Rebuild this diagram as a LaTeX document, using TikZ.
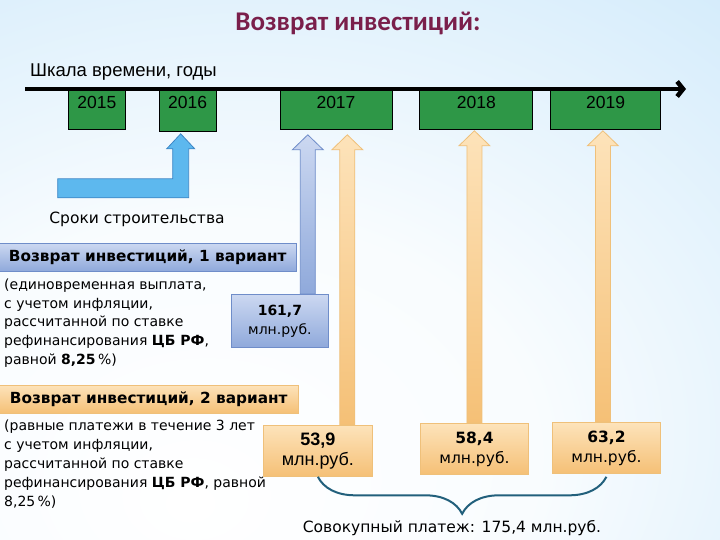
\documentclass[tikz,border=0pt]{standalone}
\usepackage{fontspec}
\setmainfont{DejaVu Sans}
\newfontfamily\arialfont{Liberation Sans}
\newfontfamily\titlefont{Carlito}
\usetikzlibrary{positioning, calc, arrows.meta, decorations.pathreplacing}

\definecolor{titlered}{HTML}{7A1F4B}
\definecolor{yeargreen}{HTML}{2E9747}
\definecolor{bgblue}{HTML}{BFE2F9}
\definecolor{buildblue}{HTML}{5DB8EE}
\definecolor{buildline}{HTML}{3D86C6}
\definecolor{vonetop}{HTML}{CCD8F1}
\definecolor{vonebot}{HTML}{8FA9DB}
\definecolor{voneline}{HTML}{6F8DC9}
\definecolor{vtwotop}{HTML}{FDE3BA}
\definecolor{vtwobot}{HTML}{F5C076}
\definecolor{vtwoline}{HTML}{EFC07A}
\definecolor{bracecol}{HTML}{22607C}

\pgfdeclareradialshading{bgshade}{\pgfpoint{-12bp}{-22bp}}{color(0bp)=(white); color(22bp)=(white!90!bgblue); color(55bp)=(bgblue!80); color(100bp)=(bgblue)}

\newcommand{\payarrow}[3]{%
  \path[#1] let \p1=(#2), \p2=(#3) in
    (\x1-7.5pt,\y1) -- (\x1-7.5pt,\y2-15pt) -- (\x1-15.5pt,\y2-15pt) -- (\x1,\y2)
    -- (\x1+15.5pt,\y2-15pt) -- (\x1+7.5pt,\y2-15pt) -- (\x1+7.5pt,\y1) -- cycle;}

\begin{document}
\begin{tikzpicture}[x=1pt, y=-1pt, node distance=8pt,
    yearbox/.style={draw=black, fill=yeargreen, line width=0.8pt, font=\arialfont\fontsize{17.5}{17.5}\selectfont,
      text height=17pt, text depth=19pt, inner ysep=2pt, inner xsep=0pt, anchor=north west},
    varbar/.style={minimum height=28pt, inner sep=0pt, anchor=north west,
      font=\bfseries\fontsize{15.3}{15.3}\selectfont},
    note/.style={align=left, anchor=north west, inner sep=0pt, font=\fontsize{14}{18.8}\selectfont},
    sumbox/.style={align=center, inner sep=0pt, anchor=north west, font=\fontsize{14}{19}\selectfont},
    blueshade/.style={top color=vonetop, bottom color=vonebot, draw=voneline, line width=0.8pt},
    orangeshade/.style={top color=vtwotop, bottom color=vtwobot, draw=vtwoline, line width=0.8pt}]
  \useasboundingbox (0,0) rectangle (720,540);
  \shade[shading=bgshade] (0,0) rectangle (720,540);

  \node[font=\titlefont\bfseries\fontsize{27}{27}\selectfont, text=titlered] (title) at (358,23) {Возврат инвестиций:};
  \node[anchor=west, inner sep=0pt, font=\arialfont\fontsize{18.5}{18.5}\selectfont] (scale) at (30,72) {Шкала времени, годы};

  \node[yearbox, minimum width=57pt] (y2015) at (68,89) {2015};
  \node[yearbox, minimum width=57pt, text depth=21pt, right=33pt of y2015.north east, anchor=north west] (y2016) {2016};
  \node[yearbox, minimum width=112pt, right=63pt of y2016.north east, anchor=north west] (y2017) {2017};
  \node[yearbox, minimum width=113pt, right=27pt of y2017.north east, anchor=north west] (y2018) {2018};
  \node[yearbox, minimum width=110pt, right=17pt of y2018.north east, anchor=north west] (y2019) {2019};
  \coordinate (t0) at (25,89);
  \coordinate (t1) at (686,89);
  \draw[line width=4.5pt, -{Straight Barb[length=6pt,width=15pt]}] (t0) -- (t1);

  \coordinate (s16) at ([xshift=-7pt,yshift=-2pt]y2016.south);
  \draw[buildline, fill=buildblue, line width=0.8pt] (s16) -- +(14,15) -- +(8,15) -- +(8,64) -- +(-123,64)
    -- +(-123,45) -- +(-8,45) -- +(-8,15) -- +(-14,15) -- cycle;
  \node[font=\fontsize{15.5}{15.5}\selectfont] (build) at (137,219) {Сроки строительства};

  \node[varbar, minimum width=297pt, top color=vonetop, bottom color=vonebot, draw=voneline] (v1) at (-1,243) {Возврат инвестиций, 1 вариант};
  \node[below=7pt of v1.south west, note, xshift=5pt] (n1) {(единовременная выплата,\\с учетом инфляции,\\рассчитанной по ставке\\рефинансирования \textbf{ЦБ РФ},\\равной \textbf{8,25}\,\%)};
  \node[varbar, minimum width=299pt, top color=vtwotop, bottom color=vtwobot, draw=vtwoline] (v2) at (-1,385) {Возврат инвестиций, 2 вариант};
  \node[below=6pt of v2.south west, note, xshift=5pt, font=\fontsize{14}{19}\selectfont] (n2) {(равные платежи в течение 3 лет\\с учетом инфляции,\\рассчитанной по ставке\\рефинансирования \textbf{ЦБ РФ}, равной\\8,25\,\%)};

  \node[sumbox, blueshade, minimum width=97pt, minimum height=53pt] (b161) at (231,294) {\textbf{161,7}\\млн.руб.};
  \node[sumbox, orangeshade, minimum width=109pt, minimum height=51pt, font=\arialfont\fontsize{18}{20}\selectfont] (b539) at (263,425) {\textbf{53,9}\\млн.руб.};
  \node[sumbox, orangeshade, minimum width=108pt, minimum height=51pt, font=\fontsize{15.5}{20}\selectfont] (b584) at (420,423) {\textbf{58,4}\\млн.руб.};
  \node[sumbox, orangeshade, minimum width=108pt, minimum height=51pt, font=\fontsize{15.5}{20}\selectfont] (b632) at (552,422) {\textbf{63,2}\\млн.руб.};

  \payarrow{blueshade}{[xshift=-21pt]b161.north east}{[yshift=-5pt]y2017.south}
  \payarrow{orangeshade}{[xshift=-25.5pt]b539.north east}{[yshift=-5pt]y2017.south}
  \payarrow{orangeshade}{b584.north}{[yshift=-1pt]y2018.south}
  \payarrow{orangeshade}{[xshift=-3.5pt]b632.north}{[yshift=-1pt]y2019.south}

  \draw[bracecol, line width=2pt, decorate, decoration={brace, amplitude=37pt, mirror}] (b539.south) -- (b539.south -| b632.south);
  \node[font=\fontsize{15.5}{15.5}\selectfont] (total) at (452,528) {Совокупный платеж: 175,4 млн.руб.};
\end{tikzpicture}
\end{document}
